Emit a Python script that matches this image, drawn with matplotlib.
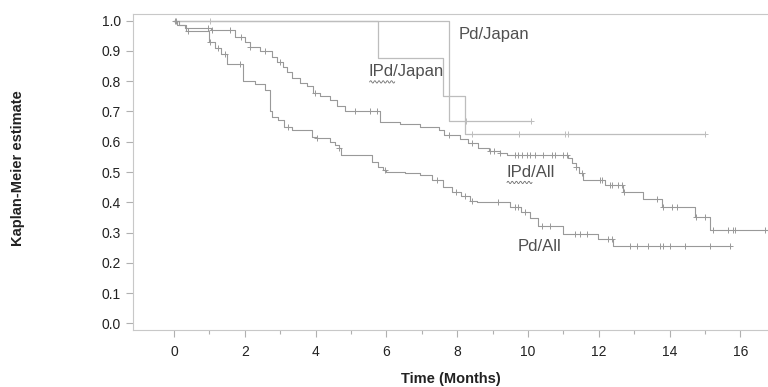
import numpy as np
import matplotlib
matplotlib.use("Agg")
import matplotlib.pyplot as plt
from matplotlib.transforms import ScaledTranslation

plt.rcParams["font.family"] = ["Liberation Sans", "DejaVu Sans"]

# step times (months) and Kaplan-Meier values after each step
ipd_all_t = [0, 0.15, 0.3, 1.05, 1.72, 2.0, 2.15, 2.43, 2.77, 2.9, 3.08, 3.2, 3.33, 3.55,
             3.75, 3.93, 4.12, 4.4, 4.6, 4.83, 5.82, 6.38, 6.95, 7.5, 7.62, 8.08, 8.3,
             8.6, 8.9, 9.2, 9.4, 11.14, 11.25, 11.37, 11.45, 11.56, 12.18, 12.69, 13.26,
             13.78, 14.72, 15.14, 16.8]
ipd_all_s = [1.0, 0.985, 0.975, 0.968, 0.947, 0.93, 0.913, 0.90, 0.88, 0.864, 0.847, 0.83,
             0.81, 0.795, 0.785, 0.762, 0.75, 0.738, 0.718, 0.70, 0.666, 0.659, 0.65, 0.639,
             0.622, 0.61, 0.595, 0.58, 0.57, 0.562, 0.556, 0.545, 0.53, 0.515, 0.496, 0.474,
             0.457, 0.435, 0.41, 0.385, 0.352, 0.308, 0.308]
ipd_all_cens = [0.02, 0.96, 1.07, 1.58, 1.9, 2.15, 2.57, 2.99, 3.98, 5.11, 5.54, 5.73, 7.77,
                8.41, 8.93, 9.05, 9.2, 9.63, 9.73, 9.82, 9.96, 10.06, 10.2, 10.43, 10.67,
                10.76, 11.0, 11.09, 11.37, 11.52, 12.03, 12.1, 12.32, 12.37, 12.55, 12.65,
                12.7, 13.64, 13.82, 14.06, 14.2, 14.74, 15.0, 15.24, 15.66, 15.8, 15.85, 16.7]

pd_all_t = [0, 0.1, 0.35, 0.98, 1.15, 1.32, 1.5, 1.95, 2.29, 2.57, 2.72, 2.77, 2.94, 3.1,
            3.33, 3.9, 4.03, 4.4, 4.55, 4.66, 4.72, 5.6, 5.76, 5.9, 6.0, 6.53, 6.95, 7.3,
            7.6, 7.85, 8.1, 8.35, 8.55, 9.49, 9.8, 10.06, 10.28, 11.0, 11.99, 12.41, 15.71]
pd_all_s = [1.0, 0.985, 0.964, 0.93, 0.91, 0.89, 0.857, 0.80, 0.79, 0.77, 0.70, 0.683, 0.672,
            0.65, 0.639, 0.617, 0.611, 0.60, 0.589, 0.578, 0.556, 0.534, 0.517, 0.507, 0.501,
            0.497, 0.49, 0.473, 0.451, 0.435, 0.42, 0.405, 0.40, 0.385, 0.369, 0.347, 0.322,
            0.297, 0.278, 0.257, 0.257]
pd_all_cens = [0.05, 0.4, 1.02, 1.25, 1.44, 1.86, 3.22, 4.03, 4.66, 5.96, 7.42, 7.98, 8.22,
               8.41, 9.16, 9.63, 9.73, 9.92, 10.39, 10.62, 11.33, 11.47, 11.66, 12.27, 12.36,
               12.88, 13.07, 13.4, 13.73, 13.82, 14.01, 14.44, 15.14, 15.71]

ipd_jp_t = [0, 5.77, 7.6, 8.22, 15.0]
ipd_jp_s = [1.0, 0.875, 0.75, 0.625, 0.625]
ipd_jp_cens = [8.41, 9.75, 11.05, 11.12, 15.0]

pd_jp_t = [0, 7.76, 10.08]
pd_jp_s = [1.0, 0.667, 0.667]
pd_jp_cens = [1.02, 8.25, 10.08]

fig = plt.figure(figsize=(7.68, 3.87), dpi=100)
ax = fig.add_axes([0.173, 0.147, 0.827, 0.817])


def km(t, s, cens, color, lw):
    t = np.array(t)
    s = np.array(s)
    ax.step(t, s, where="post", color=color, lw=lw)
    # censor marks sit on the curve
    c = np.array(cens)
    idx = np.searchsorted(t, c, side="right") - 1
    ax.plot(c, s[idx], ls="none", marker="+", ms=5, mew=0.7, color=color)


km(pd_jp_t, pd_jp_s, pd_jp_cens, "#bdbdbd", 0.9)
km(ipd_jp_t, ipd_jp_s, ipd_jp_cens, "#bdbdbd", 0.9)
km(pd_all_t, pd_all_s, pd_all_cens, "#999999", 0.8)
km(ipd_all_t, ipd_all_s, ipd_all_cens, "#999999", 0.8)

lab = dict(fontsize=12, color="#505050", va="center", ha="left")
ax.text(8.05, 0.955, "Pd/Japan", **lab)
ax.text(5.5, 0.832, "IPd/Japan", **lab)
ax.text(9.38, 0.50, "IPd/All", **lab)
ax.text(9.72, 0.255, "Pd/All", **lab)

# wavy spell-check underline below "IPd"
wx = np.linspace(0, 18, 37)
wy = -7.5 + 0.9 * np.sin(wx * 2 * np.pi / 3.0)
for x0, y0 in [(5.5, 0.832), (9.38, 0.50)]:
    trans = fig.dpi_scale_trans + ScaledTranslation(x0, y0, ax.transData)
    ax.plot(wx / 72.0 + 0.01, wy / 72.0, color="#707070", lw=0.6, transform=trans,
            clip_on=False)

ax.set_xlim(-1.16, 16.78)
ax.set_ylim(-0.022, 1.022)
ax.set_xticks(np.arange(0, 17, 2))
ax.set_xticks(np.arange(1, 17, 2), minor=True)
ax.set_yticks(np.arange(0, 1.01, 0.1))
ax.set_yticklabels(["%.1f" % v for v in np.arange(0, 1.01, 0.1)])
ax.tick_params(axis="both", which="major", length=5, width=0.8, color="#b0b0b0",
               labelsize=10, labelcolor="#222222")
ax.tick_params(axis="x", which="major", pad=6)
ax.tick_params(axis="x", which="minor", length=3, width=0.8, color="#b0b0b0")
for side in ["left", "bottom", "top"]:
    ax.spines[side].set_color("#c8c8c8")
ax.spines["right"].set_visible(False)

ax.set_xlabel("Time (Months)", fontsize=10.5, fontweight="bold", color="#222222",
              labelpad=9)
fig.text(0.024, 0.566, "Kaplan-Meier estimate", rotation=90, fontsize=10.5,
         fontweight="bold", color="#222222", ha="center", va="center")

fig.savefig("out.png", dpi=100)
